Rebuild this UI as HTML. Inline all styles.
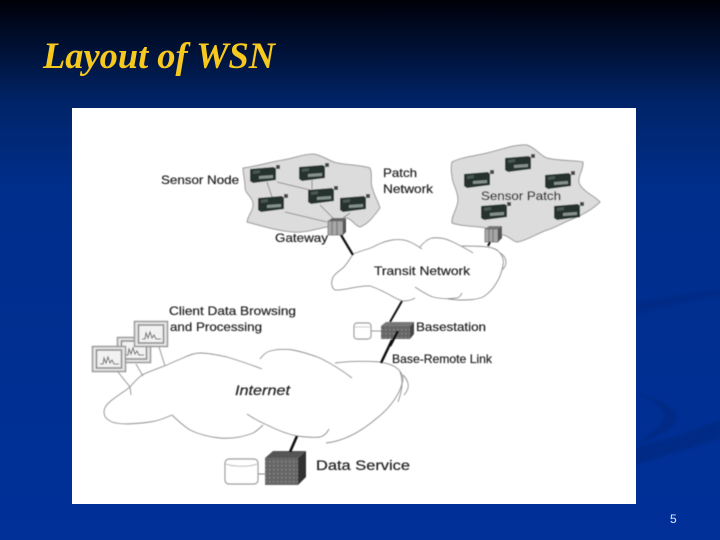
<!DOCTYPE html>
<html><head><meta charset="utf-8">
<style>
html,body{margin:0;padding:0;width:720px;height:540px;overflow:hidden;background:#00309a}
svg{display:block}
</style></head>
<body>
<svg width="720" height="540" viewBox="0 0 720 540" xmlns="http://www.w3.org/2000/svg">
<defs>
<linearGradient id="bg" x1="0" y1="0" x2="0" y2="1">
<stop offset="0" stop-color="#000008"/>
<stop offset="0.08" stop-color="#000f30"/>
<stop offset="0.19" stop-color="#002468"/>
<stop offset="0.35" stop-color="#002e8c"/>
<stop offset="1" stop-color="#003098"/>
</linearGradient>
<filter id="b" x="-5%" y="-5%" width="110%" height="110%"><feGaussianBlur stdDeviation="0.4"/></filter>
<filter id="bs" x="-5%" y="-5%" width="110%" height="110%"><feGaussianBlur stdDeviation="1.2"/></filter>
<pattern id="dots" width="4" height="4" patternUnits="userSpaceOnUse">
<rect width="4" height="4" fill="#666"/>
<rect x="1" y="1" width="1.4" height="1.4" fill="#8c8c8c"/>
</pattern>
<g id="n">
<path d="M-13,-6 L11,-8 L13,-6 L13,5 L-10,8 L-13,6Z" fill="#26332f"/>
<path d="M-4,1 L10,0 L10,3 L-4,4Z" fill="#87928d"/>
<path d="M-10,-4 L-3,-5 L-3,-2 L-10,-1Z" fill="#4a5a52"/>
<rect x="13" y="-10" width="4" height="4" fill="#444"/>
</g>
<g id="m">
<rect x="-16.500" y="-12.500" width="33" height="25" fill="#e6e6e6" stroke="#999" stroke-width="1.5"/>
<rect x="-12.500" y="-9" width="25" height="18" fill="#f2f2f2" stroke="#8a8a8a" stroke-width="1.5"/>
<path d="M-9,5 L-6,5 L-5,-1 L-3,4 L-1,-2 L1,4 L3,1 L5,5 L10,5" fill="none" stroke="#666" stroke-width="1"/>
</g>
</defs>

<rect width="720" height="540" fill="url(#bg)"/>
<g filter="url(#bs)" fill="#002a86">
<path d="M636,303 C665,296 695,292 720,289 L720,296 C690,300 660,308 636,314Z"/>
<path d="M636,393 C650,396 672,404 677,414 C680,426 660,437 636,444 C650,434 664,424 664,414 C660,404 648,398 636,393Z"/>
<path d="M636,447 C665,440 695,430 720,420 L720,438 C690,448 660,457 636,465Z"/>
</g>

<text x="43" y="68" font-family="'Liberation Serif',serif" font-style="italic" font-weight="bold" font-size="37" fill="#f7c91e" textLength="232" lengthAdjust="spacingAndGlyphs">Layout of WSN</text>
<text x="670" y="523" font-family="'Liberation Sans',sans-serif" font-size="12" fill="#dfe8ff">5</text>

<rect x="72" y="108" width="564" height="396" fill="#fff"/>

<g filter="url(#b)">
<!-- patch 1 -->
<path d="M243,168 C258,166 270,162 283,160 C295,158 303,154 313,154 C323,155 328,161 337,163 C347,165 360,165 370,168 C373,175 370,181 372,187 C374,195 378,201 380,208 C374,216 368,224 360,227 C355,226 352,219 347,218 C340,218 335,225 327,227 C315,229 305,233 293,232 C278,231 262,226 247,222 C248,215 254,210 253,203 C252,196 245,194 245,187 C245,180 243,174 243,168Z" fill="#dcdcdc" stroke="#999" stroke-width="1"/>
<!-- patch 2 -->
<path d="M452,162 C462,157 475,156 487,153 C500,150 515,144 527,145 C536,148 539,155 547,158 C558,161 572,160 583,162 C584,170 576,178 580,185 C585,193 595,196 600,202 C592,210 580,216 570,220 C562,223 555,228 547,230 C538,233 526,241 517,242 C512,241 509,236 503,235 C495,230 488,228 480,227 C470,226 460,226 452,223 C451,216 458,208 458,200 C458,190 452,184 452,176 C451,171 451,166 452,162Z" fill="#dcdcdc" stroke="#999" stroke-width="1"/>
<!-- patch links -->
<g stroke="#777" stroke-width="0.8" fill="none">
<path d="M267,182 L272,197"/>
<path d="M277,182 L310,190"/>
<path d="M312,180 L312,189"/>
<path d="M285,212 L327,222"/>
<path d="M320,205 L333,218"/>
<path d="M350,213 L343,218"/>
</g>
<use href="#n" x="263" y="175"/>
<use href="#n" x="312" y="173"/>
<use href="#n" x="321" y="196"/>
<use href="#n" x="271" y="204"/>
<use href="#n" x="353" y="204"/>
<use href="#n" x="477" y="180"/>
<use href="#n" x="518" y="164"/>
<use href="#n" x="558" y="181"/>
<use href="#n" x="494" y="212"/>
<use href="#n" x="567" y="212"/>

<!-- gateways -->
<g>
<path d="M328,221 L332,218 L346,218 L343,221Z" fill="#666"/>
<rect x="328" y="221" width="15" height="14" fill="#a8a8a8" stroke="#666" stroke-width="0.7"/>
<path d="M332,221 V235 M337,221 V235" stroke="#777" stroke-width="1.2"/>
<path d="M343,221 L346,218 L346,232 L343,235Z" fill="#555"/>
</g>
<g>
<path d="M485,229 L489,226 L502,226 L498,229Z" fill="#777"/>
<rect x="485" y="229" width="13" height="13" fill="#a8a8a8" stroke="#666" stroke-width="0.7"/>
<path d="M489,229 V242 M493,229 V242" stroke="#777" stroke-width="1.2"/>
<path d="M498,229 L502,226 L502,238 L498,242Z" fill="#555"/>
</g>

<!-- transit cloud -->
<g fill="none" stroke="#8f8f8f" stroke-width="0.9">
<path d="M353,254 C360,251 366,250 373,247 C380,243 386,241 392,240 C400,239 406,240 410,242 C415,244 419,247 422,249"/>
<path d="M420,247 C424,242 428,239 432,238 C440,237 447,239 453,242 C461,246 467,249 473,253"/>
<path d="M462,246 C470,246 480,246 488,247 C494,248 498,250 500,253 C503,257 504,261 503,265 C502,271 500,277 497,282 C493,289 488,294 483,297 C476,300 467,300 460,300 C455,300 451,299 448,299"/>
<path d="M500,253 C504,255 506,259 506,262 C506,266 504,268 502,270"/>
<path d="M415,287 C421,291 427,295 433,297 C441,299 450,299 457,298 C460,297 461,295 462,293"/>
<path d="M353,254 C350,259 347,264 343,268 C338,272 333,275 332,280 C331,285 332,288 335,290 C344,291 358,285 370,286 C377,288 384,292 390,295 C395,298 399,300 403,301 C408,301 412,300 415,298"/>
</g>

<!-- internet cloud -->
<g fill="none" stroke="#8f8f8f" stroke-width="0.9">
<path d="M130,387 C134,382 138,378 142,375 C150,371 159,368 167,365 C173,362 178,360 183,358 C189,355 194,353 200,353 C209,353 218,355 227,357 C240,361 252,365 262,369"/>
<path d="M260,359 C263,355 266,352 270,351 C278,349 286,349 293,350 C303,352 312,355 320,358 C332,364 343,371 352,378"/>
<path d="M335,363 C350,361 366,361 380,362 C392,364 401,368 403,378 C402,392 390,408 377,418 C363,430 345,441 326,443"/>
<path d="M403,375 C407,379 409,384 408,388 C407,391 405,394 404,395"/>
<path d="M400,372 C403,380 403,388 398,402"/>
<path d="M130,387 C120,395 105,402 104,411 C104,417 106,419 112,422 C120,425 135,424 150,422 C158,421 165,418 172,415"/>
<path d="M172,415 C178,421 184,426 190,430 C200,435 210,437 220,438 C232,439 243,437 253,433 C257,431 260,428 263,425"/>
<path d="M247,414 C253,418 260,422 267,425 C277,430 287,434 297,436 C305,437 313,438 320,437 C324,436 327,433 329,429"/>
</g>

<!-- client links -->
<g stroke="#999" stroke-width="1" fill="none">
<path d="M118,372 L130,387 L131,395"/>
<path d="M136,364 L143,376"/>
<path d="M159,347 L165,366"/>
</g>
<use href="#m" x="134" y="350"/>
<use href="#m" x="109" y="359"/>
<use href="#m" x="151" y="334"/>

<!-- thick connectors -->
<g stroke="#111" stroke-width="2" fill="none">
<path d="M341,235 L353,255" stroke-width="2.2"/>
<path d="M490,242 L488,246"/>
<path d="M402,301 L390,322"/>
<path d="M381,363 L392,340" stroke-width="2.5"/>
</g>

<!-- basestation -->
<path d="M381,326 L386,322 L414,322 L410,326Z" fill="#777"/>
<rect x="381" y="326" width="29" height="13" fill="url(#dots)"/>
<path d="M410,326 L414,322 L414,334 L410,339Z" fill="#444"/>
<path d="M398,331 L390,346" stroke="#111" stroke-width="2.5"/>
<rect x="354" y="323" width="17" height="16" rx="3" fill="#fff" stroke="#999" stroke-width="1.2"/>
<path d="M355,327 H370" stroke="#ccc" stroke-width="1"/>
<path d="M371,331 H381" stroke="#999" stroke-width="1"/>

<!-- data service -->
<path d="M265,458 L273,451 L306,451 L298,458Z" fill="#555"/>
<rect x="265" y="458" width="33" height="27" fill="url(#dots)"/>
<path d="M298,458 L306,451 L306,477 L298,485Z" fill="#333"/>
<path d="M290,452 L297,436" stroke="#111" stroke-width="2.6"/>
<rect x="225" y="459" width="33" height="25" rx="4" fill="#fff" stroke="#999" stroke-width="1.2"/>
<path d="M226,464 C234,467 250,467 257,464" fill="none" stroke="#bbb" stroke-width="1"/>
<path d="M258,474 H265" stroke="#888" stroke-width="1"/>

<!-- labels -->
<g font-family="'Liberation Sans',sans-serif" font-size="12" fill="#222" stroke="#222" stroke-width="0.2">
<text x="161" y="184" textLength="78" lengthAdjust="spacingAndGlyphs">Sensor Node</text>
<text x="383" y="177" textLength="34" lengthAdjust="spacingAndGlyphs">Patch</text>
<text x="383" y="193" textLength="50" lengthAdjust="spacingAndGlyphs">Network</text>
<text x="481" y="200" textLength="80" lengthAdjust="spacingAndGlyphs">Sensor Patch</text>
<text x="275" y="242" textLength="53" lengthAdjust="spacingAndGlyphs">Gateway</text>
<text x="374" y="275" textLength="96" lengthAdjust="spacingAndGlyphs">Transit Network</text>
<text x="169" y="315" textLength="127" lengthAdjust="spacingAndGlyphs">Client Data Browsing</text>
<text x="170" y="331" textLength="92" lengthAdjust="spacingAndGlyphs">and Processing</text>
<text x="416" y="331" textLength="70" lengthAdjust="spacingAndGlyphs">Basestation</text>
<text x="392" y="363" textLength="100" lengthAdjust="spacingAndGlyphs">Base-Remote Link</text>
<text x="235" y="395" font-style="italic" font-size="13.5" textLength="55" lengthAdjust="spacingAndGlyphs">Internet</text>
<text x="316" y="470" font-size="13.5" textLength="94" lengthAdjust="spacingAndGlyphs">Data Service</text>
</g>
</g>
</svg>
</body></html>
